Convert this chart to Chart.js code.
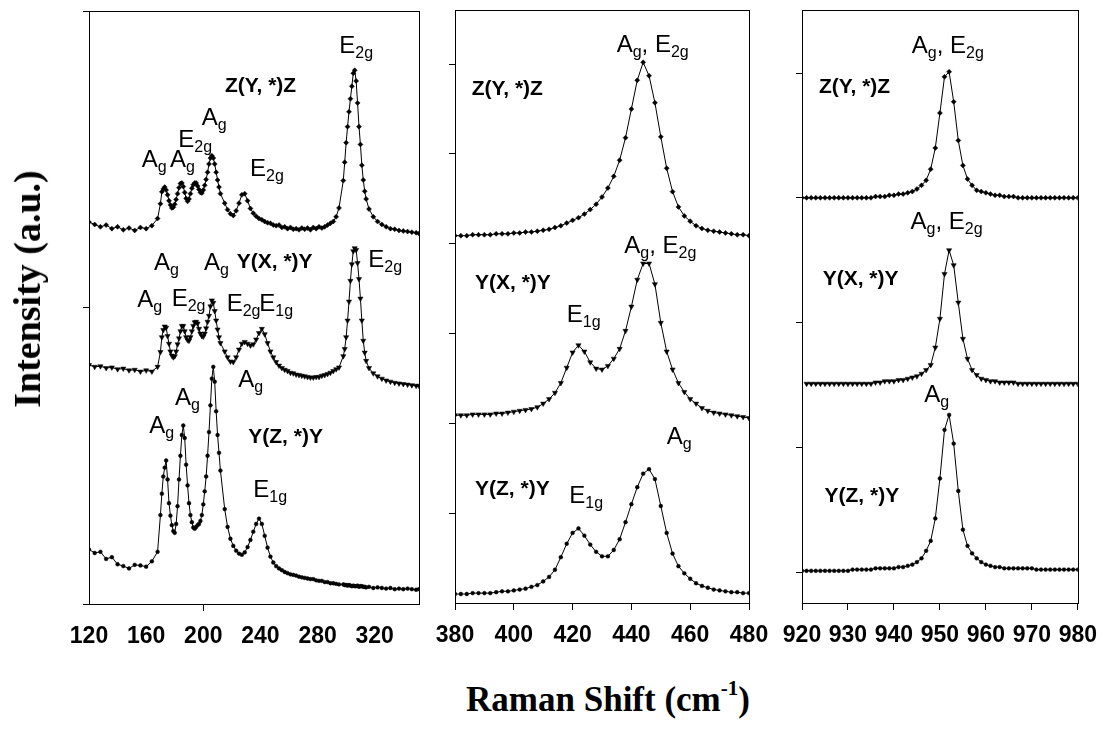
<!DOCTYPE html>
<html>
<head>
<meta charset="utf-8">
<title>Raman spectra</title>
<script src="https://cdn.jsdelivr.net/npm/chart.js@4.4.1/dist/chart.umd.min.js"></script>
<style>
  body { margin: 0; background: #fff; }
  #page { position: relative; width: 1109px; height: 732px; overflow: hidden; }
  .panel { position: absolute; top: 0; }
  #ytitle {
    position: absolute; left: 27px; top: 289px;
    transform: translate(-50%, -50%) rotate(-90deg);
    font: bold 38px "Liberation Serif", serif; white-space: nowrap; color: #000;
  }
  #xtitle {
    position: absolute; left: 608px; top: 678px; transform: translateX(-50%);
    font: bold 35px "Liberation Serif", serif; white-space: nowrap; line-height: 1; color: #000;
  }
  #xtitle span { font-size: 0.6em; vertical-align: 0.75em; }
</style>
</head>
<body>
<div id="page">
  <div class="panel" style="left:30px"><canvas id="c1" width="430" height="660"></canvas></div>
  <div class="panel" style="left:400px"><canvas id="c2" width="400" height="660"></canvas></div>
  <div class="panel" style="left:750px"><canvas id="c3" width="359" height="660"></canvas></div>
  <div id="ytitle">Intensity (a.u.)</div>
  <div id="xtitle">Raman Shift (cm<span>-1</span>)</div>
</div>

<script>
// ---- panel 1: 120 - 350 cm-1 ----
const shiftLow = [120, 124, 128, 132, 136, 140, 144, 148, 152, 156, 160, 164, 168,
  170, 171, 172, 173, 174, 175, 176, 177, 178, 179, 180, 181, 182, 183, 184, 185, 186, 187, 188, 189, 190,
  191, 192, 193, 194, 195, 196, 197, 198, 199, 200, 201, 202, 203, 204, 205, 206, 207, 208, 209, 210, 211, 212,
  215, 217, 219, 221, 223, 225, 227, 229, 231, 233, 235, 237, 239, 241, 243, 245, 247, 249, 251, 253, 255,
  257, 259, 261, 263, 265, 267, 269, 271, 273, 275, 277, 279, 281, 283, 285, 287, 289, 291, 293, 295,
  298, 299, 300, 301, 302, 303, 304, 305, 306, 307, 308, 309, 310, 311, 312, 313, 314,
  316, 319, 322, 325, 328, 331, 334, 337, 340, 343, 346, 349, 351];

const lowZYZ = [64.4, 64.0, 63.6, 63.9, 63.3, 63.6, 63.1, 63.4, 63.0, 63.5, 63.3, 63.8, 65.0,
  67.5, 69.5, 70.0, 70.3, 69.8, 69.0, 68.0, 67.3, 66.8, 66.9, 67.4, 68.2, 69.2, 70.2, 70.9, 71.0, 70.4, 69.4, 68.4, 67.9, 68.3,
  69.2, 70.1, 70.7, 71.0, 71.0, 70.5, 69.9, 69.4, 69.3, 69.8, 70.6, 71.6, 72.8, 74.2, 75.2, 75.6, 75.2, 74.2, 72.8, 71.5, 70.3, 69.2,
  67.6, 66.5, 65.8, 65.5, 66.3, 67.6, 69.0, 69.2, 68.0, 66.7, 65.9, 65.4, 65.0, 64.8, 64.5, 64.3, 64.2, 63.9, 63.8, 63.9, 63.5,
  63.6, 63.3, 63.5, 63.2, 63.3, 63.1, 63.4, 63.2, 63.4, 63.1, 63.5, 63.3, 63.6, 63.4, 63.6, 63.9, 64.2, 64.5, 65.3, 66.8,
  71.4, 74.5, 77.8, 80.5, 83.0, 85.2, 87.3, 89.5, 90.0, 88.2, 84.5, 80.5, 77.5, 74.0, 71.5, 69.6, 68.3,
  66.6, 65.3, 64.5, 64.0, 63.6, 63.3, 63.2, 63.0, 62.9, 62.8, 62.7, 62.6, 62.5];

const lowYXY = [40.3, 40.0, 40.1, 39.8, 39.9, 39.6, 39.7, 39.4, 39.5, 39.2, 39.4, 39.2, 40.0,
  42.5, 45.0, 46.2, 46.8, 46.6, 45.2, 43.9, 42.6, 41.9, 41.6, 41.8, 42.6, 43.8, 44.8, 46.0, 46.9, 46.9, 46.0, 45.0, 44.5, 44.4,
  45.0, 46.0, 46.9, 47.5, 47.6, 47.3, 46.4, 45.6, 45.2, 45.1, 45.6, 46.5, 47.6, 48.6, 50.2, 51.2, 50.8, 49.4, 47.8, 46.3, 45.0, 44.0,
  42.6, 41.6, 40.9, 40.8, 41.6, 42.9, 43.9, 44.2, 43.9, 43.6, 43.8, 44.6, 45.7, 46.4, 45.5, 44.0, 42.6, 41.6, 40.8, 40.2, 39.8,
  39.5, 39.3, 39.0, 38.9, 38.7, 38.6, 38.5, 38.4, 38.3, 38.2, 38.2, 38.3, 38.3, 38.5, 38.6, 38.8, 39.0, 39.3, 39.6, 39.9,
  41.8, 43.0, 45.0, 47.8, 51.0, 54.5, 57.3, 59.5, 60.0, 59.7, 57.5, 54.8, 51.5, 47.8, 44.4, 42.4, 41.0,
  39.8, 38.9, 38.4, 38.0, 37.7, 37.5, 37.3, 37.2, 37.1, 37.0, 36.9, 36.8, 36.8];

const lowYZY = [9.2, 8.6, 8.8, 7.6, 7.9, 6.7, 6.4, 6.0, 6.6, 6.5, 6.3, 7.2, 8.8,
  15.0, 18.6, 21.5, 23.0, 24.2, 21.0, 17.0, 14.9, 13.3, 12.3, 12.0, 13.5, 16.5, 21.0, 25.0, 28.5, 30.1, 28.0, 23.5, 20.0, 17.0,
  15.0, 13.8, 12.9, 12.7, 13.0, 13.3, 13.5, 14.0, 15.0, 16.8, 19.0, 21.5, 25.0, 29.0, 33.5, 38.0, 40.0, 37.5, 32.5, 28.5, 25.5, 22.5,
  16.0, 13.0, 11.0, 9.8, 9.0, 8.5, 8.3, 8.7, 9.6, 10.8, 12.2, 13.5, 14.4, 13.5, 11.5, 9.5, 8.0, 7.0, 6.4, 6.0, 5.7,
  5.4, 5.2, 5.0, 4.9, 4.8, 4.6, 4.5, 4.4, 4.3, 4.2, 4.2, 4.0, 3.9, 3.9, 3.7, 3.7, 3.5, 3.5, 3.4, 3.3,
  3.3, 3.2, 3.2, 3.1, 3.2, 3.1, 3.0, 3.1, 3.0, 3.0, 3.1, 2.9, 3.0, 3.0, 2.9, 2.9, 2.8,
  2.9, 2.7, 2.8, 2.7, 2.6, 2.7, 2.5, 2.6, 2.5, 2.6, 2.5, 2.4, 2.5];

// ---- panel 2: 380 - 480 cm-1 ----
const shiftMid = [380, 382, 384, 386, 388, 390, 392, 394, 396, 398, 400, 402, 404, 406, 408, 410, 412, 414, 416, 418,
  420, 422, 424, 426, 428, 430, 432, 434, 436, 438, 440, 442, 444, 446, 448, 450, 452, 454, 456, 458,
  460, 462, 464, 466, 468, 470, 472, 474, 476, 478, 480];

const midZYZ = [4.09, 4.09, 4.09, 4.10, 4.10, 4.10, 4.10, 4.11, 4.11, 4.11, 4.12, 4.12, 4.13, 4.13, 4.14, 4.15, 4.16, 4.18, 4.20, 4.23,
  4.26, 4.29, 4.33, 4.38, 4.44, 4.52, 4.62, 4.75, 4.93, 5.18, 5.50, 5.82, 6.02, 5.87, 5.57, 5.19, 4.84, 4.58, 4.41, 4.31,
  4.25, 4.20, 4.17, 4.15, 4.14, 4.13, 4.12, 4.11, 4.10, 4.10, 4.09];

const midYXY = [2.09, 2.09, 2.09, 2.10, 2.10, 2.10, 2.10, 2.11, 2.11, 2.12, 2.13, 2.14, 2.15, 2.16, 2.18, 2.22, 2.27, 2.34, 2.45, 2.62,
  2.79, 2.87, 2.80, 2.68, 2.61, 2.60, 2.64, 2.72, 2.83, 3.03, 3.30, 3.60, 3.78, 3.78, 3.55, 3.12, 2.80, 2.60, 2.45, 2.35,
  2.27, 2.22, 2.17, 2.14, 2.12, 2.11, 2.10, 2.09, 2.08, 2.07, 2.06];

const midYZY = [0.10, 0.10, 0.10, 0.11, 0.11, 0.11, 0.11, 0.12, 0.13, 0.13, 0.14, 0.15, 0.16, 0.18, 0.20, 0.24, 0.29, 0.37, 0.51, 0.66,
  0.78, 0.83, 0.75, 0.65, 0.57, 0.52, 0.52, 0.59, 0.71, 0.90, 1.10, 1.29, 1.44, 1.49, 1.38, 1.08, 0.78, 0.55, 0.41, 0.33,
  0.27, 0.22, 0.19, 0.17, 0.15, 0.14, 0.13, 0.12, 0.12, 0.11, 0.11];

// ---- panel 3: 920 - 980 cm-1 ----
const shiftHigh = [920, 921, 922, 923, 924, 925, 926, 927, 928, 929, 930, 931, 932, 933, 934, 935, 936, 937, 938, 939,
  940, 941, 942, 943, 944, 945, 946, 947, 948, 949, 950, 951, 952, 953, 954, 955, 956, 957, 958, 959,
  960, 961, 962, 963, 964, 965, 966, 967, 968, 969, 970, 971, 972, 973, 974, 975, 976, 977, 978, 979, 980];

const highZYZ = [3.00, 3.00, 3.00, 3.00, 3.00, 3.00, 3.00, 3.00, 3.00, 3.00, 3.00, 3.00, 3.00, 3.00, 3.00, 3.00, 3.01, 3.01, 3.01, 3.02,
  3.02, 3.03, 3.03, 3.04, 3.05, 3.07, 3.10, 3.14, 3.23, 3.40, 3.68, 3.97, 4.01, 3.77, 3.46, 3.26, 3.15, 3.10, 3.06, 3.05,
  3.04, 3.03, 3.02, 3.02, 3.01, 3.01, 3.01, 3.00, 3.00, 3.00, 3.00, 3.00, 3.00, 3.00, 3.00, 3.00, 3.00, 3.00, 3.00, 3.00, 3.00];

const highYXY = [null, 1.51, 1.51, 1.51, 1.51, 1.51, 1.51, 1.51, 1.51, 1.51, 1.51, 1.51, 1.51, 1.51, 1.51, 1.51, 1.52, 1.52, 1.53, 1.53,
  1.53, 1.54, 1.54, 1.55, 1.56, 1.57, 1.59, 1.62, 1.66, 1.80, 2.03, 2.39, 2.58, 2.46, 2.16, 1.87, 1.71, 1.62, 1.58, 1.55,
  1.54, 1.53, 1.53, 1.52, 1.52, 1.52, 1.52, 1.51, 1.51, 1.51, 1.51, 1.51, 1.51, 1.51, 1.51, 1.51, 1.51, 1.51, 1.51, 1.51, 1.51];

const highYZY = [0.01, 0.01, 0.01, 0.01, 0.01, 0.01, 0.01, 0.01, 0.01, 0.01, 0.01, 0.02, 0.02, 0.02, 0.02, 0.02, 0.03, 0.03, 0.03, 0.03,
  0.03, 0.04, 0.04, 0.05, 0.06, 0.08, 0.11, 0.17, 0.25, 0.43, 0.75, 1.14, 1.26, 1.03, 0.65, 0.34, 0.21, 0.15, 0.11, 0.08,
  0.06, 0.05, 0.04, 0.04, 0.03, 0.03, 0.03, 0.03, 0.03, 0.03, 0.03, 0.02, 0.02, 0.02, 0.02, 0.02, 0.02, 0.02, 0.02, 0.02, 0.02];

// tick labels
const ticksLow = [120, 160, 200, 240, 280, 320];
const ticksMid = [380, 400, 420, 440, 460, 480];
const ticksHigh = [920, 930, 940, 950, 960, 970, 980];

// peak assignments, placed in data units of each panel ( _{..} = subscript )
const labelsLow = [
  { x: 295.2, y: 92.9, t: 'E_{2g}' },
  { x: 215.2, y: 86.3, t: 'Z(Y, *)Z', b: true },
  { x: 156.9, y: 73.7, t: 'A_{g}' },
  { x: 176.7, y: 73.7, t: 'A_{g}' },
  { x: 182.5, y: 77.1, t: 'E_{2g}' },
  { x: 198.9, y: 80.8, t: 'A_{g}' },
  { x: 232.7, y: 72.1, t: 'E_{2g}' },
  { x: 165.5, y: 56.4, t: 'A_{g}' },
  { x: 200.5, y: 56.4, t: 'A_{g}' },
  { x: 223.4, y: 56.6, t: 'Y(X, *)Y', b: true },
  { x: 315.5, y: 56.9, t: 'E_{2g}' },
  { x: 153.8, y: 50.1, t: 'A_{g}' },
  { x: 177.9, y: 50.3, t: 'E_{2g}' },
  { x: 216.4, y: 49.4, t: 'E_{2g}' },
  { x: 239.2, y: 49.4, t: 'E_{1g}' },
  { x: 224.5, y: 36.6, t: 'A_{g}' },
  { x: 180.2, y: 33.6, t: 'A_{g}' },
  { x: 162.2, y: 28.8, t: 'A_{g}' },
  { x: 231.5, y: 27.1, t: 'Y(Z, *)Y', b: true },
  { x: 235.0, y: 18.1, t: 'E_{1g}' }
];
const labelsMid = [
  { x: 435.0, y: 6.14, t: 'A_{g}, E_{2g}' },
  { x: 385.7, y: 5.66, t: 'Z(Y, *)Z', b: true },
  { x: 437.6, y: 3.90, t: 'A_{g}, E_{2g}' },
  { x: 386.8, y: 3.50, t: 'Y(X, *)Y', b: true },
  { x: 418.0, y: 3.13, t: 'E_{1g}' },
  { x: 452.0, y: 1.77, t: 'A_{g}' },
  { x: 386.8, y: 1.20, t: 'Y(Z, *)Y', b: true },
  { x: 418.9, y: 1.11, t: 'E_{1g}' }
];
const labelsHigh = [
  { x: 943.9, y: 4.16, t: 'A_{g}, E_{2g}' },
  { x: 923.7, y: 3.84, t: 'Z(Y, *)Z', b: true },
  { x: 943.6, y: 2.75, t: 'A_{g}, E_{2g}' },
  { x: 924.5, y: 2.30, t: 'Y(X, *)Y', b: true },
  { x: 946.6, y: 1.36, t: 'A_{g}' },
  { x: 924.9, y: 0.56, t: 'Y(Z, *)Y', b: true }
];

const SANS = '"Liberation Sans", Arial, sans-serif';

function drawLabel(ctx, x, y, text, bold) {
  ctx.textAlign = 'left';
  ctx.textBaseline = 'alphabetic';
  ctx.fillStyle = '#000';
  if (bold) {
    ctx.font = 'bold 21px ' + SANS;
    ctx.fillText(text, x, y);
    return;
  }
  text.split(/(_\{[^}]*\})/).forEach(p => {
    if (!p) return;
    const sub = p.startsWith('_{');
    const s = sub ? p.slice(2, -1) : p;
    ctx.font = (sub ? '16px ' : '24px ') + SANS;
    ctx.fillText(s, x, sub ? y + 5 : y);
    x += ctx.measureText(s).width;
  });
}

// box around the plot area + the text labels
const framePlugin = {
  id: 'frame',
  afterDraw(chart, args, opts) {
    const { ctx, chartArea: a, scales } = chart;
    ctx.save();
    ctx.strokeStyle = '#000';
    ctx.lineWidth = 1;
    ctx.strokeRect(Math.round(a.left) + 0.5, Math.round(a.top) + 0.5,
      Math.round(a.right - a.left), Math.round(a.bottom - a.top));
    (opts.labels || []).forEach(l => {
      drawLabel(ctx, scales.x.getPixelForValue(l.x), scales.y.getPixelForValue(l.y), l.t, l.b);
    });
    ctx.restore();
  }
};

const styles = [
  { pointStyle: 'rectRot', pointRadius: 2.5, pointRotation: 0 },
  { pointStyle: 'triangle', pointRadius: 3, pointRotation: 180 },
  { pointStyle: 'circle', pointRadius: 1.9, pointRotation: 0 }
];

function series(xs, ys, k) {
  return Object.assign({
    data: xs.map((x, i) => ({ x: x, y: ys[i] })).filter(p => p.y !== null),
    showLine: true,
    borderColor: '#000',
    backgroundColor: '#000',
    pointBackgroundColor: '#000',
    pointBorderColor: '#000',
    pointBorderWidth: 0.5,
    borderWidth: 1,
    tension: 0
  }, styles[k]);
}

function makePanel(id, cfg) {
  new Chart(document.getElementById(id), {
    type: 'scatter',
    data: {
      datasets: [series(cfg.xs, cfg.y1, 0), series(cfg.xs, cfg.y2, 1), series(cfg.xs, cfg.y3, 2)]
    },
    options: {
      responsive: false,
      animation: false,
      events: [],
      layout: { padding: cfg.padding },
      plugins: {
        legend: { display: false },
        tooltip: { enabled: false },
        frame: { labels: cfg.labels }
      },
      scales: {
        x: {
          type: 'linear',
          min: cfg.xmin, max: cfg.xmax,
          afterBuildTicks: s => { s.ticks = cfg.xticks.map(v => ({ value: v })); },
          afterFit: s => { s.height = 50; },
          border: { display: false },
          grid: {
            drawOnChartArea: false, drawTicks: true, tickLength: 7,
            color: ctx => (cfg.xTickMarks(ctx.tick && ctx.tick.value) ? '#000' : 'rgba(0,0,0,0)')
          },
          ticks: {
            color: '#000', padding: 12, maxRotation: 0, autoSkip: false,
            font: { family: SANS, size: 23, weight: 'bold' },
            callback: v => String(v)
          }
        },
        y: {
          type: 'linear',
          min: cfg.ymin, max: cfg.ymax,
          afterBuildTicks: s => { s.ticks = cfg.yticks.map(v => ({ value: v })); },
          afterFit: s => { s.width = 10; },
          border: { display: false },
          grid: { drawOnChartArea: false, drawTicks: true, tickLength: 6, color: '#000' },
          ticks: { callback: () => '' }
        }
      }
    },
    plugins: [framePlugin]
  });
}

makePanel('c1', {
  xs: shiftLow, y1: lowZYZ, y2: lowYXY, y3: lowYZY,
  xmin: 120, xmax: 351, ymin: 0, ymax: 100,
  xticks: ticksLow, yticks: [0, 50, 100],
  xTickMarks: v => v === 200,
  labels: labelsLow,
  padding: { left: 49, right: 41, top: 11, bottom: 6 }
});

makePanel('c2', {
  xs: shiftMid, y1: midZYZ, y2: midYXY, y3: midYZY,
  xmin: 380, xmax: 480, ymin: 0, ymax: 6.6,
  xticks: ticksMid, yticks: [1, 2, 3, 4, 5, 6],
  xTickMarks: () => true,
  labels: labelsMid,
  padding: { left: 45, right: 51, top: 9, bottom: 7 }
});

makePanel('c3', {
  xs: shiftHigh, y1: highZYZ, y2: highYXY, y3: highYZY,
  xmin: 920, xmax: 980, ymin: -0.248, ymax: 4.504,
  xticks: ticksHigh, yticks: [0, 1, 2, 3, 4],
  xTickMarks: () => true,
  labels: labelsHigh,
  padding: { left: 42, right: 26, top: 9, bottom: 7 }
});
</script>
</body>
</html>
